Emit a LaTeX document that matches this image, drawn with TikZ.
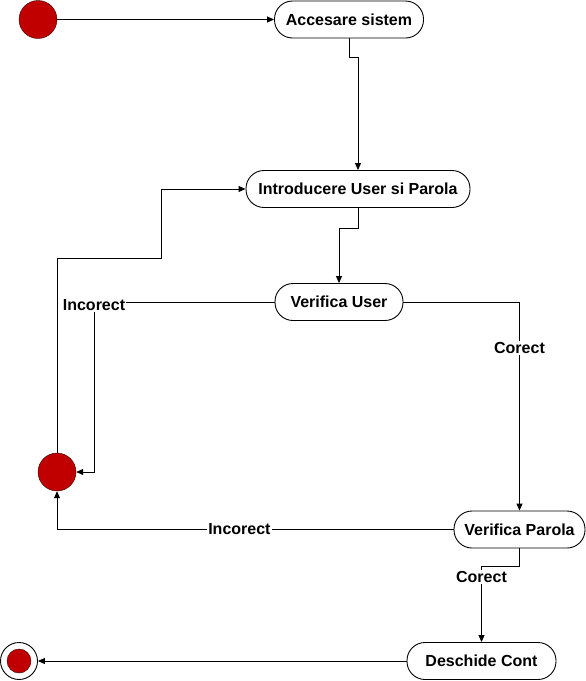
\documentclass[tikz,border=0pt]{standalone}
\usepackage{fontspec}
\setmainfont{Liberation Sans}
\usepackage{xcolor}
\usetikzlibrary{positioning, arrows.meta}
\definecolor{dotred}{RGB}{192,0,0}

\begin{document}
\begin{tikzpicture}[x=1pt,y=-1pt]
            % Define styles for the states and arrows
            \tikzstyle{activity} = [draw, line width=0.9pt, rectangle, rounded corners=18pt, minimum height=37pt, inner sep=0pt, font=\fontsize{16}{19}\selectfont\bfseries]
            \tikzstyle{dot} = [draw=black!70!dotred, fill=dotred, circle, minimum size=38pt, inner sep=0pt]
            \tikzstyle{flow} = [draw, line width=0.9pt, -{Triangle[length=7pt,width=6pt]}]
            \tikzstyle{lbl} = [fill=white, inner sep=1pt, font=\fontsize{16}{19}\selectfont\bfseries]

            \useasboundingbox (0,0) rectangle (586,681);

            % Start, retry and end points
            \node [dot] (start) at (38,19.5) {};
            \node [dot] (retry) at (57,472) {};
            \node [draw, circle, minimum size=37pt, inner sep=0pt, line width=0.9pt] (end) at (19,661) {};
            \node [dot, minimum size=24pt] (endcore) at (end) {};

            % Nodes for states
            \node [activity, minimum width=149pt] (access) at (349,19.5) {Accesare sistem};
            \node [activity, minimum width=224pt] (login) at (358,189) {Introducere User si Parola};
            \node [activity, minimum width=128pt] (checkuser) at (339,302) {Verifica User};
            \node [activity, minimum width=131pt] (checkpass) at (519.5,529.5) {Verifica Parola};
            \node [activity, minimum width=149pt] (openacc) at (481.5,661) {Deschide Cont};

            % Bend points
            \coordinate (userbend) at (94,302);
            \coordinate (loopbend) at (161,258);

            % Transitions
            \draw [flow] (start) -- (access);
            \draw [flow] (access.south) -- ++(0,19) -| (login.north);
            \draw [flow] (login.south) -- ++(0,20) -| (checkuser.north);
            \draw [flow] (checkuser.west) -- (userbend) |- (retry.east);
            \node [lbl] at ([yshift=-3pt]userbend) {Incorect};
            \draw [flow] (checkuser.east) -| node[lbl, pos=0.61] {Corect} (checkpass.north);
            \draw [flow] (checkpass.west) -| node[lbl, pos=0.27] {Incorect} (retry.south);
            \draw [flow] (retry.north) |- (loopbend) |- (login.west);
            \draw [flow] (checkpass.south) -- ++(0,18) -| node[lbl, pos=0.57] {Corect} (openacc.north);
            \draw [flow] (openacc.west) -- (end);
        \end{tikzpicture}
\end{document}
